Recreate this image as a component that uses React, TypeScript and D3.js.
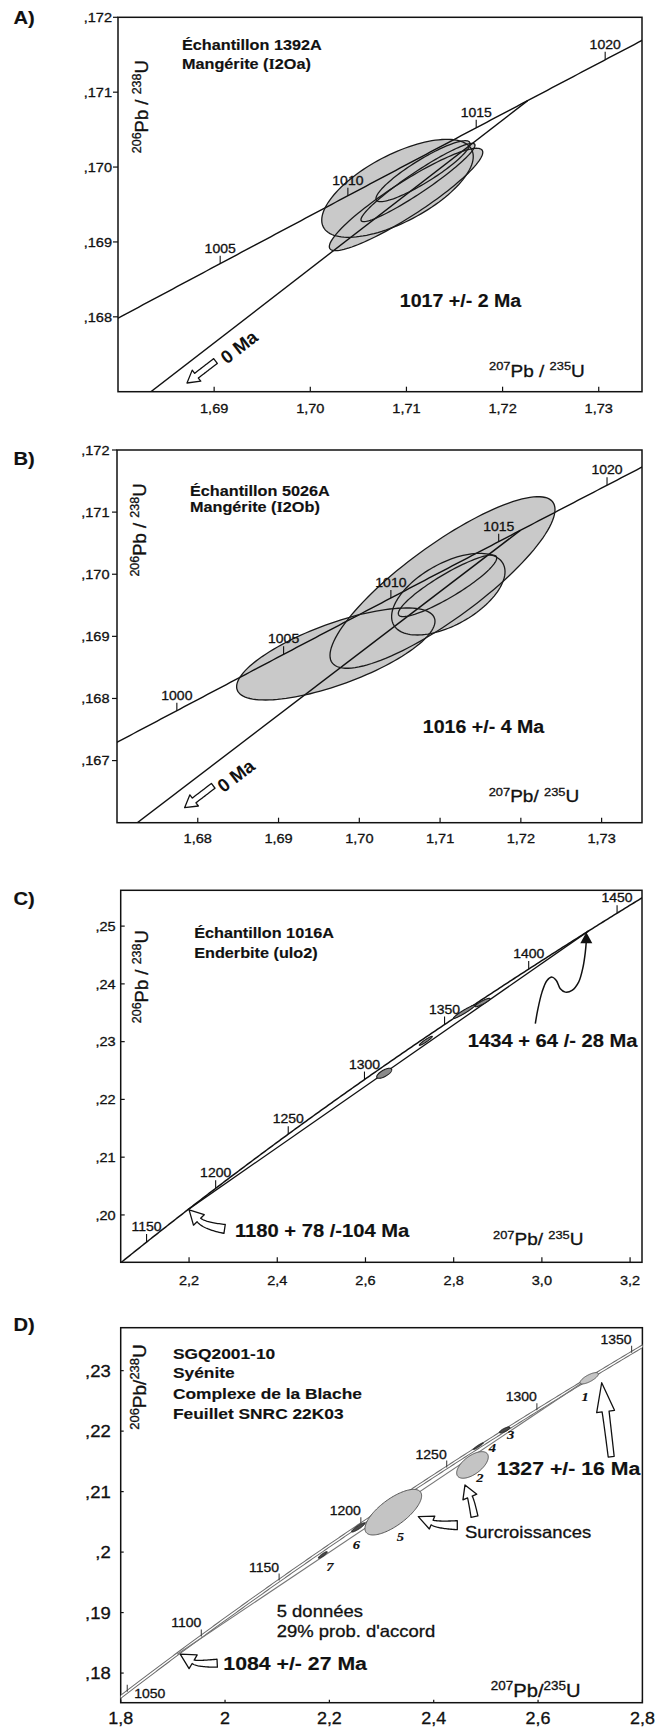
import React from 'react';
import * as d3 from 'd3';

// U–Pb decay constants, per Ma
const LAMBDA_238 = 1.55125e-4;
const LAMBDA_235 = 9.8485e-4;
const ratio206 = (t: number) => Math.exp(LAMBDA_238 * t) - 1;
const ratio207 = (t: number) => Math.exp(LAMBDA_235 * t) - 1;
const ageFrom207 = (r: number) => Math.log(1 + r) / LAMBDA_235;

type Ellipse = { x: number; sx: number; y: number; sy: number; rho: number };

// ---------- A) Échantillon 1392A ----------
const agesA = [1005, 1010, 1015, 1020];
const interceptA = 1017;
const xTicksA = [1.69, 1.7, 1.71, 1.72, 1.73];
const yTicksA = [0.168, 0.169, 0.17, 0.171, 0.172];
const ellipsesA: Ellipse[] = [
  { x: 1.70907, sx: 0.00788, y: 0.169716, sy: 0.000654, rho: 0.65 },
  { x: 1.70996, sx: 0.00798, y: 0.169567, sy: 0.000684, rho: 0.92 },
  { x: 1.7112, sx: 0.00593, y: 0.169794, sy: 0.000523, rho: 0.95 },
  { x: 1.71172, sx: 0.00489, y: 0.169945, sy: 0.000407, rho: 0.9 },
];

// ---------- B) Échantillon 5026A ----------
const agesB = [1000, 1005, 1010, 1015, 1020];
const interceptB = 1016;
const xTicksB = [1.68, 1.69, 1.7, 1.71, 1.72, 1.73];
const yTicksB = [0.167, 0.168, 0.169, 0.17, 0.171, 0.172];
const ellipsesB: Ellipse[] = [
  { x: 1.69709, sx: 0.01228, y: 0.168716, sy: 0.000741, rho: 0.71 },
  { x: 1.7103, sx: 0.01393, y: 0.169867, sy: 0.001381, rho: 0.85 },
  { x: 1.71102, sx: 0.00702, y: 0.169679, sy: 0.000657, rho: 0.55 },
  { x: 1.71092, sx: 0.00609, y: 0.169814, sy: 0.000496, rho: 0.9 },
];

// ---------- C) Échantillon 1016A ----------
const agesC = [1150, 1200, 1250, 1300, 1350, 1400, 1450];
const interceptsC = [1180, 1434];
const xTicksC = [2.2, 2.4, 2.6, 2.8, 3.0, 3.2];
const yTicksC = [0.2, 0.21, 0.22, 0.23, 0.24, 0.25];
const ellipsesC: Ellipse[] = [
  { x: 2.6425, sx: 0.017, y: 0.22452, sy: 0.00087, rho: 0.7 },
  { x: 2.7368, sx: 0.0147, y: 0.23014, sy: 0.00078, rho: 0.95 },
  { x: 2.8239, sx: 0.0245, y: 0.23518, sy: 0.00116, rho: 0.96 },
  { x: 2.8654, sx: 0.017, y: 0.23677, sy: 0.00073, rho: 0.9 },
];

// ---------- D) SGQ2001-10 ----------
const agesD = [1050, 1100, 1150, 1200, 1250, 1300, 1350];
const interceptsD = [1084, 1327];
const xTicksD = [1.8, 2.0, 2.2, 2.4, 2.6, 2.8];
const yTicksD = [0.18, 0.19, 0.2, 0.21, 0.22, 0.23];
const analysisIdsD = ['1', '2', '3', '4', '5', '6', '7'];
const ellipsesD: Ellipse[] = [
  { x: 2.698, sx: 0.0176, y: 0.22874, sy: 0.00094, rho: 0.75 },
  { x: 2.4743, sx: 0.0303, y: 0.21441, sy: 0.0022, rho: 0.6 },
  { x: 2.536, sx: 0.0102, y: 0.22019, sy: 0.0005, rho: 0.8 },
  { x: 2.4855, sx: 0.0096, y: 0.21751, sy: 0.00056, rho: 0.95 },
  { x: 2.3225, sx: 0.0543, y: 0.2066, sy: 0.00377, rho: 0.72 },
  { x: 2.2554, sx: 0.0128, y: 0.20408, sy: 0.00076, rho: 0.9 },
  { x: 2.1874, sx: 0.0086, y: 0.19953, sy: 0.00055, rho: 0.9 },
];
const darkD = [false, false, true, true, false, true, true];
const idOffsetsD: [number, number][] = [[-4, 18], [7.5, 13], [6, 5], [14, 1], [7, 24.5], [-2, 17.5], [7, 12]];

// ---------- shared styling ----------
const FONT = "'Liberation Sans', Arial, Helvetica, sans-serif";
const SERIF = "'Liberation Serif', 'Times New Roman', serif";
const INK = '#111';
const STRETCH = 1.12;

type Scale = d3.ScaleLinear<number, number>;
type Pt = [number, number];

const commaFixed = (digits: number) => (v: number) =>
  v.toFixed(digits).replace(/^0/, '').replace('.', ',');
const commaTrim = (digits: number) => (v: number) =>
  String(+v.toFixed(digits)).replace(/^0/, '').replace('.', ',');

function Txt({ x, y, size, anchor = 'start', weight = 'normal', family = FONT, italic = false, children }: any) {
  const heavy = weight !== 'normal';
  return (
    <text
      transform={`translate(${x},${y}) scale(${STRETCH},1)`}
      textAnchor={anchor}
      fontSize={size}
      fontWeight={weight}
      fontFamily={family}
      fontStyle={italic ? 'italic' : 'normal'}
      fill={INK}
      stroke={INK}
      strokeWidth={heavy ? 0.15 : 0.3}
      style={{ whiteSpace: 'pre' }}
    >
      {children}
    </text>
  );
}

function RatioLabel({ x, y, num, den, sep, size, sup, rotate = false }: any) {
  const rise = size * 0.36;
  const transform = rotate ? `translate(${x},${y}) rotate(-90)` : `translate(${x},${y}) scale(${STRETCH},1)`;
  return (
    <text transform={transform} textAnchor={rotate ? 'middle' : 'start'} fontFamily={FONT} fill={INK}
      stroke={INK} strokeWidth={0.3} fontSize={size} style={{ whiteSpace: 'pre' }}>
      <tspan fontSize={sup} dy={-rise}>{num}</tspan>
      <tspan dy={rise}>Pb</tspan>
      <tspan>{sep}</tspan>
      <tspan fontSize={sup} dy={-rise}>{den}</tspan>
      <tspan dy={rise}>U</tspan>
    </text>
  );
}

function Frame({ id, xs, ys, xTicks, yTicks, xFmt, yFmt, xFont, yFont, xLabelY, yLabelGap, yOut, xTickLen = 5, yTickLen = 5 }: any) {
  const [l, r] = xs.range();
  const [b, t] = ys.range();
  return (
    <g>
      <defs>
        <clipPath id={id}>
          <rect x={l} y={t} width={r - l} height={b - t} />
        </clipPath>
      </defs>
      {xTicks.map((v: number) => (
        <line key={'xt' + v} x1={xs(v)} x2={xs(v)} y1={b} y2={b - xTickLen} stroke={INK} strokeWidth={1.2} />
      ))}
      {xTicks.map((v: number) => (
        <Txt key={'xl' + v} x={xs(v)} y={xLabelY} size={xFont} anchor="middle">{xFmt(v)}</Txt>
      ))}
      {yTicks.map((v: number) => (
        <line key={'yt' + v} x1={l} x2={yOut ? l - yTickLen : l + yTickLen} y1={ys(v)} y2={ys(v)} stroke={INK} strokeWidth={1.2} />
      ))}
      {yTicks.map((v: number) => (
        <Txt key={'yl' + v} x={l - yLabelGap} y={ys(v) + yFont * 0.36} size={yFont} anchor="end">{yFmt(v)}</Txt>
      ))}
      <rect x={l} y={t} width={r - l} height={b - t} fill="none" stroke={INK} strokeWidth={1.5} />
    </g>
  );
}

function concordiaPath(xs: Scale, ys: Scale) {
  const [x0, x1] = xs.domain();
  const t0 = ageFrom207(x0) - 15;
  const t1 = ageFrom207(x1) + 15;
  const pts: Pt[] = d3.range(0, 301).map((i) => {
    const t = t0 + ((t1 - t0) * i) / 300;
    return [xs(ratio207(t)), ys(ratio206(t))];
  });
  return d3.line()(pts) as string;
}

function ellipsePath(e: Ellipse, xs: Scale, ys: Scale) {
  const c = Math.sqrt(1 - e.rho * e.rho);
  const pts: Pt[] = d3.range(0, 360, 3).map((deg) => {
    const th = (deg * Math.PI) / 180;
    const dx = e.sx * Math.cos(th);
    const dy = e.sy * (e.rho * Math.cos(th) + c * Math.sin(th));
    return [xs(e.x + dx), ys(e.y + dy)];
  });
  return d3.line().curve(d3.curveLinearClosed)(pts) as string;
}

function AgeTicks({ xs, ys, ages, mode, font, tickLen, color }: any) {
  const left = xs.range()[0];
  return (
    <g>
      {ages.map((a: number) => {
        const px = xs(ratio207(a));
        const py = ys(ratio206(a));
        let anchor = 'middle';
        let lx = px;
        let ly = py - tickLen - 3;
        if (mode === 'end') {
          anchor = 'end';
          lx = px;
          ly = py - tickLen - 2;
          if (px - 36 < left) {
            anchor = 'start';
            lx = px + 7;
            ly = py + 6.5;
          }
        }
        return (
          <g key={a}>
            <line x1={px} x2={px} y1={py} y2={py - tickLen} stroke={color} strokeWidth={1.1} />
            <Txt x={lx} y={ly} size={font} anchor={anchor}>{a}</Txt>
          </g>
        );
      })}
    </g>
  );
}

// Outline of a hollow block arrow whose shaft follows a quadratic curve.
function hollowArrow(tip: Pt, ctrl: Pt, tail: Pt, headL: number, headW: number, w0: number, w1: number) {
  const ul = Math.hypot(tip[0] - ctrl[0], tip[1] - ctrl[1]);
  const ux = (tip[0] - ctrl[0]) / ul;
  const uy = (tip[1] - ctrl[1]) / ul;
  const base: Pt = [tip[0] - ux * headL, tip[1] - uy * headL];
  const N = 24;
  const left: Pt[] = [];
  const right: Pt[] = [];
  let n0: Pt = [0, 0];
  for (let i = 0; i <= N; i++) {
    const t = i / N;
    const mt = 1 - t;
    const px = mt * mt * base[0] + 2 * mt * t * ctrl[0] + t * t * tail[0];
    const py = mt * mt * base[1] + 2 * mt * t * ctrl[1] + t * t * tail[1];
    const dx = 2 * mt * (ctrl[0] - base[0]) + 2 * t * (tail[0] - ctrl[0]);
    const dy = 2 * mt * (ctrl[1] - base[1]) + 2 * t * (tail[1] - ctrl[1]);
    const dl = Math.hypot(dx, dy) || 1;
    const nx = -dy / dl;
    const ny = dx / dl;
    if (i === 0) n0 = [nx, ny];
    const w = (w0 + (w1 - w0) * t) / 2;
    left.push([px + nx * w, py + ny * w]);
    right.push([px - nx * w, py - ny * w]);
  }
  const pts: Pt[] = [
    ...left.slice().reverse(),
    [base[0] + (n0[0] * headW) / 2, base[1] + (n0[1] * headW) / 2],
    tip,
    [base[0] - (n0[0] * headW) / 2, base[1] - (n0[1] * headW) / 2],
    ...right,
  ];
  return d3.line().curve(d3.curveLinearClosed)(pts) as string;
}

function HollowArrow(props: any) {
  const { tip, ctrl, tail, headL, headW, w0, w1 } = props;
  return (
    <path d={hollowArrow(tip, ctrl, tail, headL, headW, w0, w1)} fill="#fff" stroke={INK} strokeWidth={1.3} strokeLinejoin="round" />
  );
}

// Discordia anchored at the origin (0 Ma) with a "0 Ma" marker
function ZeroDiscordia({ xs, ys, age, clip, arrowTip, textAt }: any) {
  const ix = ratio207(age);
  const iy = ratio206(age);
  const k = iy / ix;
  const x0 = xs.domain()[0] - 0.01;
  const p0: Pt = [xs(x0), ys(k * x0)];
  const p1: Pt = [xs(ix), ys(iy)];
  const ang = Math.atan2(p1[1] - p0[1], p1[0] - p0[0]);
  const deg = (ang * 180) / Math.PI;
  const back: Pt = [Math.cos(ang), Math.sin(ang)];
  const tail: Pt = [arrowTip[0] + back[0] * 36, arrowTip[1] + back[1] * 36];
  const mid: Pt = [arrowTip[0] + back[0] * 20, arrowTip[1] + back[1] * 20];
  return (
    <g>
      <line x1={p0[0]} y1={p0[1]} x2={p1[0]} y2={p1[1]} stroke={INK} strokeWidth={1.4} clipPath={`url(#${clip})`} />
      <HollowArrow tip={arrowTip} ctrl={mid} tail={tail} headL={12} headW={14} w0={6} w1={6} />
      <text
        transform={`translate(${textAt[0]},${textAt[1]}) rotate(${deg})`}
        textAnchor="middle"
        dominantBaseline="central"
        fontFamily={FONT}
        fontWeight="bold"
        fontSize={18.5}
        fill={INK}
      >
        0 Ma
      </text>
    </g>
  );
}

function PanelA() {
  const xs = d3.scaleLinear().domain([1.68, 1.7345]).range([118, 642]);
  const ys = d3.scaleLinear().domain([0.167, 0.172]).range([391.7, 17.3]);
  const clip = 'clipA';
  return (
    <g>
      <Txt x={13.5} y={23.5} size={18} weight="bold">A)</Txt>
      <Frame id={clip} xs={xs} ys={ys} xTicks={xTicksA} yTicks={yTicksA} xFmt={commaFixed(2)} yFmt={commaFixed(3)}
        xFont={13} yFont={13} xLabelY={413} yLabelGap={6} yOut />
      <g clipPath={`url(#${clip})`}>
        {ellipsesA.map((e, i) => <path key={i} d={ellipsePath(e, xs, ys)} fill="#c9c9c9" />)}
        <path d={concordiaPath(xs, ys)} fill="none" stroke={INK} strokeWidth={1.4} />
      </g>
      <ZeroDiscordia xs={xs} ys={ys} age={interceptA} clip={clip} arrowTip={[187, 383]} textAt={[239, 347]} />
      {ellipsesA.map((e, i) => <path key={i} d={ellipsePath(e, xs, ys)} fill="none" stroke="#1a1a1a" strokeWidth={1.3} />)}
      <AgeTicks xs={xs} ys={ys} ages={agesA} mode="middle" font={12.5} tickLen={8} color={INK} />
      <Txt x={182} y={50} size={14.5} weight="bold">Échantillon 1392A</Txt>
      <Txt x={182} y={68.5} size={14.5} weight="bold">
        Mangérite (<tspan fontFamily={SERIF}>I</tspan>2Oa)
      </Txt>
      <Txt x={460.5} y={306.5} size={17.5} weight="bold" anchor="middle">1017 +/- 2 Ma</Txt>
      <RatioLabel x={489} y={376.5} num="207" den="235" sep=" / " size={17} sup={11.5} />
      <RatioLabel x={148} y={106.7} num="206" den="238" sep=" / " size={18.5} sup={12.5} rotate />
    </g>
  );
}

function PanelB() {
  const xs = d3.scaleLinear().domain([1.67, 1.735]).range([117, 642]);
  const ys = d3.scaleLinear().domain([0.166, 0.172]).range([822.7, 450]);
  const clip = 'clipB';
  return (
    <g>
      <Txt x={13.5} y={464.5} size={18} weight="bold">B)</Txt>
      <Frame id={clip} xs={xs} ys={ys} xTicks={xTicksB} yTicks={yTicksB} xFmt={commaFixed(2)} yFmt={commaFixed(3)}
        xFont={13} yFont={13} xLabelY={843.3} yLabelGap={7.5} yOut />
      <g clipPath={`url(#${clip})`}>
        {ellipsesB.map((e, i) => <path key={i} d={ellipsePath(e, xs, ys)} fill="#c9c9c9" />)}
        <path d={concordiaPath(xs, ys)} fill="none" stroke={INK} strokeWidth={1.4} />
      </g>
      <ZeroDiscordia xs={xs} ys={ys} age={interceptB} clip={clip} arrowTip={[184.6, 807.7]} textAt={[236, 775.7]} />
      {ellipsesB.map((e, i) => <path key={i} d={ellipsePath(e, xs, ys)} fill="none" stroke="#1a1a1a" strokeWidth={1.3} />)}
      <AgeTicks xs={xs} ys={ys} ages={agesB} mode="middle" font={12.5} tickLen={8} color={INK} />
      <Txt x={190} y={496} size={14.5} weight="bold">Échantillon 5026A</Txt>
      <Txt x={190} y={511.5} size={14.5} weight="bold">
        Mangérite (<tspan fontFamily={SERIF}>I</tspan>2Ob)
      </Txt>
      <Txt x={483.5} y={733} size={17.5} weight="bold" anchor="middle">1016 +/- 4 Ma</Txt>
      <RatioLabel x={488.7} y={801.7} num="207" den="235" sep="/ " size={17} sup={11.5} />
      <RatioLabel x={145.8} y={530} num="206" den="238" sep=" / " size={18.5} sup={12.5} rotate />
    </g>
  );
}

function PanelC() {
  const xs = d3.scaleLinear().domain([2.045, 3.227]).range([120.7, 642]);
  const ys = d3.scaleLinear().domain([0.1918, 0.2562]).range([1262.3, 890.3]);
  const clip = 'clipC';
  const [lo, hi] = interceptsC;
  const pLo: Pt = [xs(ratio207(lo)), ys(ratio206(lo))];
  const pHi: Pt = [xs(ratio207(hi)), ys(ratio206(hi))];
  const wave: Pt[] = [
    [-51, 91.6], [-48.7, 78.3], [-44.3, 60], [-39.3, 48.3], [-34.3, 45], [-30, 48.3], [-26, 56.6],
    [-21, 60], [-14.3, 58.3], [-7.7, 50], [-3.3, 35], [-1, 20], [0, 9],
  ];
  const tip: Pt = [pHi[0] - 2, pHi[1] + 1];
  const wavePts: Pt[] = wave.map(([dx, dy]) => [tip[0] + dx, tip[1] + dy]);
  return (
    <g>
      <Txt x={13.5} y={904.5} size={18} weight="bold">C)</Txt>
      <Frame id={clip} xs={xs} ys={ys} xTicks={xTicksC} yTicks={yTicksC} xFmt={commaFixed(1)} yFmt={commaFixed(2)}
        xFont={13} yFont={13} xLabelY={1285} yLabelGap={5} yOut={false} yTickLen={4} />
      <g clipPath={`url(#${clip})`}>
        <path d={concordiaPath(xs, ys)} fill="none" stroke={INK} strokeWidth={1.5} />
        <line x1={pLo[0]} y1={pLo[1]} x2={pHi[0]} y2={pHi[1]} stroke={INK} strokeWidth={1.3} />
        {ellipsesC.map((e, i) => (
          <path key={i} d={ellipsePath(e, xs, ys)} fill="#8a8a8a" stroke="#1a1a1a" strokeWidth={1.1} />
        ))}
      </g>
      <AgeTicks xs={xs} ys={ys} ages={agesC} mode="middle" font={12.5} tickLen={8} color={INK} />
      <path d={d3.line().curve(d3.curveCatmullRom)(wavePts) as string} fill="none" stroke={INK} strokeWidth={1.5} />
      <path d={`M${tip[0]},${tip[1]} L${tip[0] - 6},${tip[1] + 11} L${tip[0] + 6},${tip[1] + 11} Z`} fill={INK} />
      <HollowArrow tip={[pLo[0] + 1.5, pLo[1]]} ctrl={[pLo[0] + 17, pLo[1] + 16]} tail={[pLo[0] + 37, pLo[1] + 19]}
        headL={14} headW={15} w0={5} w1={9} />
      <Txt x={194.2} y={938} size={14.5} weight="bold">Échantillon 1016A</Txt>
      <Txt x={194.2} y={958} size={14.5} weight="bold">Enderbite (ulo2)</Txt>
      <Txt x={467.8} y={1046.5} size={18} weight="bold">1434 + 64 /- 28 Ma</Txt>
      <Txt x={235} y={1236.5} size={18} weight="bold">1180 + 78 /-104 Ma</Txt>
      <RatioLabel x={493} y={1245} num="207" den="235" sep="/ " size={17} sup={11.5} />
      <RatioLabel x={148} y={976.7} num="206" den="238" sep=" / " size={18.5} sup={12.5} rotate />
    </g>
  );
}

function PanelD() {
  const xs = d3.scaleLinear().domain([1.8, 2.8]).range([120.7, 642.4]);
  const ys = d3.scaleLinear().domain([0.1751, 0.2371]).range([1702.7, 1327.7]);
  const clip = 'clipD';
  const [lo, hi] = interceptsD;
  const pLo: Pt = [xs(ratio207(lo)), ys(ratio206(lo))];
  const pHi: Pt = [xs(ratio207(hi)), ys(ratio206(hi))];
  const centers: Pt[] = ellipsesD.map((e) => [xs(e.x), ys(e.y)]);
  const c1 = centers[0];
  const c2 = centers[1];
  const c5 = centers[4];
  const conc = concordiaPath(xs, ys);
  return (
    <g>
      <Txt x={13.5} y={1331} size={18} weight="bold">D)</Txt>
      <Frame id={clip} xs={xs} ys={ys} xTicks={xTicksD} yTicks={yTicksD} xFmt={commaTrim(1)} yFmt={commaTrim(2)}
        xFont={16} yFont={16.5} xLabelY={1724} yLabelGap={10} yOut={false} xTickLen={3} yTickLen={3} />
      <g clipPath={`url(#${clip})`}>
        <path d={conc} fill="none" stroke="#6a6a6a" strokeWidth={3.4} />
        <path d={conc} fill="none" stroke="#fff" strokeWidth={1.4} />
        <line x1={pLo[0]} y1={pLo[1]} x2={pHi[0]} y2={pHi[1]} stroke="#777" strokeWidth={1.1} />
        {ellipsesD.map((e, i) => (
          <path key={i} d={ellipsePath(e, xs, ys)} fill={darkD[i] ? '#4a4a4a' : '#c4c4c4'} stroke={darkD[i] ? '#222' : '#555'} strokeWidth={1} />
        ))}
      </g>
      <AgeTicks xs={xs} ys={ys} ages={agesD} mode="end" font={12.5} tickLen={7} color="#444" />
      {analysisIdsD.map((id, i) => (
        <Txt key={id} x={centers[i][0] + idOffsetsD[i][0]} y={centers[i][1] + idOffsetsD[i][1] + 4.5}
          size={13} anchor="middle" family={SERIF} italic weight="bold">{id}</Txt>
      ))}
      <HollowArrow tip={[c1[0] + 12.5, c1[1] + 4.5]} ctrl={[c1[0] + 18, c1[1] + 45]} tail={[c1[0] + 22, c1[1] + 78.4]}
        headL={29} headW={18} w0={7} w1={6} />
      <HollowArrow tip={[c2[0] - 7.5, c2[1] + 20]} ctrl={[c2[0] - 1, c2[1] + 36]} tail={[c2[0] + 2, c2[1] + 51.7]}
        headL={13} headW={15} w0={5} w1={7} />
      <HollowArrow tip={[c5[0] + 25, c5[1] + 4.5]} ctrl={[c5[0] + 45, c5[1] + 13]} tail={[c5[0] + 64, c5[1] + 13]}
        headL={15} headW={14} w0={5} w1={9} />
      <HollowArrow tip={[pLo[0] + 3, pLo[1]]} ctrl={[pLo[0] + 20, pLo[1] + 10]} tail={[pLo[0] + 40, pLo[1] + 9]}
        headL={15} headW={16} w0={4} w1={8} />
      <Txt x={173} y={1359} size={15.5} weight="bold">SGQ2001-10</Txt>
      <Txt x={173} y={1377.5} size={15.5} weight="bold">Syénite</Txt>
      <Txt x={173} y={1399} size={15.5} weight="bold">Complexe de la Blache</Txt>
      <Txt x={173} y={1419} size={15.5} weight="bold">Feuillet SNRC 22K03</Txt>
      <Txt x={496.7} y={1475} size={19} weight="bold">1327 +/- 16 Ma</Txt>
      <Txt x={465} y={1538} size={16.5}>Surcroissances</Txt>
      <Txt x={276.7} y={1616.7} size={16.5}>5 données</Txt>
      <Txt x={276.7} y={1636.5} size={16.5}>29% prob. d'accord</Txt>
      <Txt x={223.3} y={1670} size={19} weight="bold">1084 +/- 27 Ma</Txt>
      <RatioLabel x={490.8} y={1696.7} num="207" den="235" sep="/" size={18} sup={12} />
      <RatioLabel x={146} y={1387} num="206" den="238" sep="/" size={19} sup={13} rotate />
    </g>
  );
}

export default function App() {
  return (
    <svg
      width={655}
      height={1727}
      viewBox="0 0 655 1727"
      style={{ position: 'absolute', left: 0, top: 0, display: 'block', background: '#fff' }}
    >
      <rect x={0} y={0} width={655} height={1727} fill="#fff" />
      <PanelA />
      <PanelB />
      <PanelC />
      <PanelD />
    </svg>
  );
}
